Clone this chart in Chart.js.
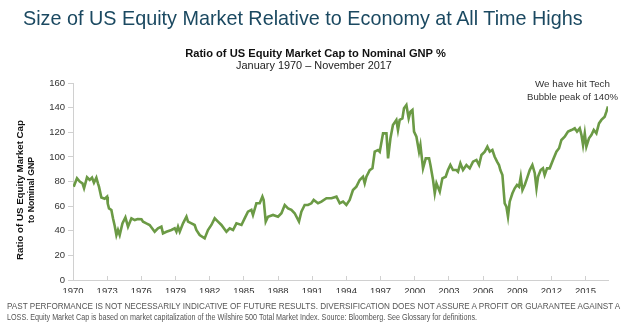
<!DOCTYPE html>
<html><head><meta charset="utf-8">
<script src="https://cdn.jsdelivr.net/npm/chart.js@4/dist/chart.umd.min.js"></script>
<style>
html,body{margin:0;padding:0;background:#fff;}
#wrap{position:relative;width:628px;height:333px;overflow:hidden;font-family:"Liberation Sans",Arial,sans-serif;}
canvas{position:absolute;left:0;top:0;}
.t{position:absolute;white-space:nowrap;line-height:1.15;}
</style></head>
<body><div id="wrap">
<canvas id="c" width="628" height="333"></canvas>
<div class="t fit" data-x="23" data-y="18" data-w="560" data-a="l" style="font-size:20px;color:#1b4961;">Size of US Equity Market Relative to Economy at All Time Highs</div>
<div class="t fit" data-x="315.5" data-y="52.5" data-w="261" data-a="c" style="font-size:11px;font-weight:bold;color:#111;">Ratio of US Equity Market Cap to Nominal GNP %</div>
<div class="t fit" data-x="314" data-y="64.5" data-w="156" data-a="c" style="font-size:11px;color:#222;">January 1970 – November 2017</div>
<div class="t fit" data-x="20" data-y="190" data-w="140" data-a="r" style="font-size:10px;font-weight:bold;color:#111;">Ratio of US Equity Market Cap</div>
<div class="t fit" data-x="32" data-y="190" data-w="66" data-a="r" style="font-size:10px;font-weight:bold;color:#111;">to Nominal GNP</div>
<div class="t fit" data-x="572.5" data-y="83.5" data-w="75" data-a="c" style="font-size:10px;color:#333;">We have hit Tech</div>
<div class="t fit" data-x="572.5" data-y="95.5" data-w="91" data-a="c" style="font-size:10px;color:#333;">Bubble peak of 140%</div>
<div class="t" id="foot1" style="font-size:8.6px;color:#555;">PAST PERFORMANCE IS NOT NECESSARILY INDICATIVE OF FUTURE RESULTS. DIVERSIFICATION DOES NOT ASSURE A PROFIT OR GUARANTEE AGAINST A</div>
<div class="t" id="foot2" style="font-size:8.6px;color:#555;">LOSS. Equity Market Cap is based on market capitalization of the Wilshire 500 Total Market Index. Source: Bloomberg. See Glossary for definitions.</div>
</div>
<script>
const years = [1970.06,1970.35,1970.59,1970.83,1970.97,1971.23,1971.47,1971.67,1971.84,1972.05,1972.19,1972.28,1972.49,1972.78,1972.99,1973.05,1973.16,1973.37,1973.51,1973.66,1973.81,1973.95,1974.10,1974.34,1974.60,1974.83,1975.13,1975.42,1975.68,1976.01,1976.15,1976.44,1976.73,1977.17,1977.46,1977.76,1977.90,1978.20,1978.64,1978.93,1979.08,1979.22,1979.37,1979.66,1979.96,1980.10,1980.40,1980.68,1980.83,1981.12,1981.56,1981.85,1982.15,1982.44,1982.73,1983.03,1983.47,1983.76,1984.05,1984.35,1984.79,1985.07,1985.36,1985.66,1985.80,1986.10,1986.39,1986.63,1986.74,1986.92,1987.12,1987.56,1988.00,1988.30,1988.59,1988.88,1989.17,1989.46,1989.84,1990.05,1990.34,1990.63,1990.93,1991.13,1991.51,1991.81,1992.25,1992.69,1993.13,1993.42,1993.71,1994.00,1994.29,1994.58,1994.88,1995.17,1995.46,1995.61,1995.76,1996.05,1996.29,1996.49,1996.78,1996.93,1997.22,1997.52,1997.66,1997.87,1998.09,1998.39,1998.53,1998.68,1998.92,1999.06,1999.27,1999.47,1999.62,1999.80,1999.94,2000.15,2000.38,2000.50,2000.73,2000.97,2001.26,2001.38,2001.61,2001.76,2001.91,2002.20,2002.43,2002.72,2002.92,2003.13,2003.36,2003.66,2003.80,2004.01,2004.24,2004.54,2004.83,2005.12,2005.42,2005.65,2005.86,2006.15,2006.38,2006.59,2006.82,2007.02,2007.23,2007.40,2007.52,2007.70,2007.90,2008.05,2008.19,2008.34,2008.58,2008.78,2008.98,2009.16,2009.31,2009.46,2009.66,2009.86,2010.10,2010.33,2010.54,2010.69,2010.83,2011.06,2011.26,2011.41,2011.62,2011.85,2012.14,2012.44,2012.67,2012.88,2013.17,2013.46,2013.76,2014.05,2014.25,2014.49,2014.64,2014.78,2014.93,2015.07,2015.30,2015.51,2015.72,2015.95,2016.18,2016.39,2016.68,2016.83,2016.97];
const ratio = [75.8,82.6,79.9,78.5,74.5,83.4,81.2,83.1,79.0,83.1,78.5,75.8,67.0,66.0,67.7,62.0,58.2,56.9,50.1,44.0,36.5,40.6,36.5,46.0,50.9,43.3,50.1,48.7,49.5,49.3,47.4,46.0,44.7,39.2,42.0,43.3,37.9,39.2,40.6,42.0,39.2,43.3,39.2,46.0,51.4,47.4,46.0,44.7,40.6,36.5,33.8,40.6,44.7,50.1,47.4,44.7,39.2,42.0,40.6,46.0,44.7,50.1,55.5,56.9,52.8,62.3,62.3,67.7,65.0,47.4,51.4,52.8,51.4,54.2,60.9,58.2,56.9,54.2,47.4,55.5,60.9,60.9,62.3,65.0,62.3,63.6,66.4,66.4,67.7,62.3,63.6,60.9,65.0,73.1,75.8,81.2,83.9,78.5,83.9,89.3,90.7,104.2,105.6,104.2,119.1,119.1,98.8,115.1,125.9,130.0,121.8,130.0,131.3,139.4,142.1,131.3,136.7,138.1,120.5,116.4,104.2,109.6,90.7,98.8,98.8,93.4,81.2,70.4,78.5,71.7,82.6,83.9,89.3,93.4,89.3,89.3,88.0,94.8,89.3,93.4,90.7,96.1,97.5,93.4,101.5,104.2,108.3,104.2,105.6,100.1,96.1,93.4,89.3,85.3,62.3,59.5,51.4,63.6,70.4,74.5,77.2,75.8,83.9,73.1,77.2,82.6,89.3,93.4,86.7,74.5,83.9,89.3,90.7,85.3,90.7,90.7,97.5,104.2,107.0,113.7,116.4,120.5,121.8,123.2,120.5,123.2,117.8,109.6,119.1,108.3,115.1,117.8,121.8,119.1,127.2,130.0,132.6,136.7,141.0];
const xTickYears = [1970,1973,1976,1979,1982,1985,1988,1991,1994,1997,2000,2003,2006,2009,2012,2015];
const yTickValues = [0,20,40,60,80,100,120,140,160];

// size each text line so its width matches the reference, then anchor it
document.querySelectorAll('.fit').forEach(el=>{
  const f0 = parseFloat(el.style.fontSize);
  const w = el.getBoundingClientRect().width;
  el.style.fontSize = (f0*parseFloat(el.dataset.w)/w).toFixed(2)+'px';
  el.style.left = el.dataset.x+'px';
  el.style.top = el.dataset.y+'px';
  const a = el.dataset.a;
  if(a==='c'){ el.style.transform='translate(-50%,-50%)'; }
  else if(a==='r'){ el.style.transform='translate(-50%,-50%) rotate(-90deg)'; }
  else { el.style.transform='translateY(-50%)'; }
});
// footnote: both lines share one size; second line condensed to its reference width
(function(){
  const f1 = document.getElementById('foot1'), f2 = document.getElementById('foot2');
  const w1 = f1.getBoundingClientRect().width;
  const fs = (8.6*613/w1).toFixed(2)+'px';
  f1.style.fontSize = fs; f2.style.fontSize = fs;
  const w2 = f2.getBoundingClientRect().width;
  const s = Math.min(1, 470/w2);
  [[f1,306.5],[f2,317.5]].forEach(([el,y])=>{el.style.left='7px';el.style.top=y+'px';el.style.transformOrigin='0 50%';});
  f1.style.transform='translateY(-50%)';
  f2.style.transform='translateY(-50%) scaleX('+s+')';
})();

const points = years.map((y,i)=>({x:y,y:ratio[i]}));
const tickFont = {family:'"Liberation Sans",Arial,sans-serif', size:9.5};
new Chart(document.getElementById('c'), {
  type:'line',
  data:{datasets:[{data:points,borderColor:'#6b9a45',borderWidth:2.6,pointRadius:0,tension:0,fill:false}]},
  options:{
    responsive:false,animation:false,devicePixelRatio:1,
    layout:{padding:{top:83,right:20,bottom:40,left:0}},
    plugins:{legend:{display:false},tooltip:{enabled:false}},
    scales:{
      x:{type:'linear',min:1970,max:2016.97,
        afterBuildTicks:s=>{s.ticks=xTickYears.map(v=>({value:v}));},
        afterFit:s=>{s.height=13;},
        border:{display:true,color:'#d0d0d0',width:1},
        grid:{display:true,drawOnChartArea:false,drawTicks:true,tickLength:-4,color:'#d0d0d0'},
        ticks:{font:tickFont,color:'#333',padding:10,maxRotation:0,autoSkip:false,callback:v=>String(v)}},
      y:{min:0,max:160,
        afterBuildTicks:s=>{s.ticks=yTickValues.map(v=>({value:v}));},
        afterFit:s=>{s.width=73;},
        border:{display:true,color:'#d0d0d0',width:1},
        grid:{display:true,drawOnChartArea:false,drawTicks:true,tickLength:5,color:'#d0d0d0'},
        ticks:{font:tickFont,color:'#333',padding:3}}
    }
  }
});
</script>
</body></html>
